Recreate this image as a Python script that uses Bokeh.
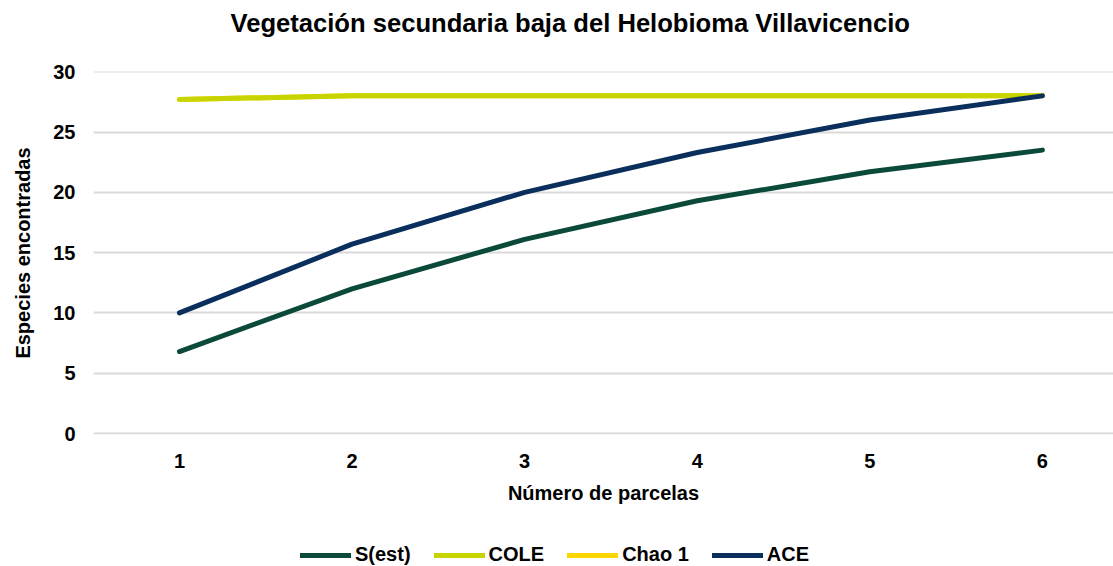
from bokeh.plotting import figure
from bokeh.layouts import column
from bokeh.models import Legend, LegendItem, FixedTicker, Range1d, Label
from bokeh.embed import file_html
from bokeh.resources import INLINE

parcelas = [1, 2, 3, 4, 5, 6]
s_est = [6.8, 12.0, 16.1, 19.3, 21.7, 23.5]
cole = [27.7, 28.0, 28.0, 28.0, 28.0, 28.0]
chao1 = [27.7, 28.0, 28.0, 28.0, 28.0, 28.0]
ace = [10.0, 15.7, 20.0, 23.3, 26.0, 28.0]
y_ticks = [0, 5, 10, 15, 20, 25, 30]
series_names = ["S(est)", "COLE", "Chao 1", "ACE"]
series_values = [s_est, cole, chao1, ace]
series_colors = ["#0B4A3A", "#C8D400", "#FFD700", "#0A2F5C"]
title_text = "Vegetación secundaria baja del Helobioma Villavicencio"

FONT = "Liberation Sans"
W = 1113

# title strip
pt = figure(width=W, height=59, output_backend="svg", toolbar_location=None,
            x_range=Range1d(0, 1), y_range=Range1d(0, 1),
            min_border_left=0, min_border_right=0, min_border_top=0, min_border_bottom=0)
pt.axis.visible = False
pt.grid.visible = False
pt.outline_line_color = None
pt.add_layout(Label(x=137, y=37, x_units="screen", y_units="screen", text=title_text,
                    text_font=FONT, text_font_size="25.6px", text_font_style="bold",
                    text_color="#000000", text_baseline="middle", text_align="left"))

# main chart
p = figure(width=W, height=459, output_backend="svg", toolbar_location=None,
           x_range=Range1d(0.502, 6.412), y_range=Range1d(-0.08, 30.02),
           min_border_left=93, min_border_right=0, min_border_top=12, min_border_bottom=84)
p.outline_line_color = None
p.background_fill_color = "white"

lw = dict(line_width=5, line_cap="round", line_join="round")
p.line(parcelas, s_est, line_color=series_colors[0], **lw)
p.line(parcelas, chao1, line_color=series_colors[2], **lw)
p.line(parcelas, cole, line_color=series_colors[1], **lw)
p.line(parcelas, ace, line_color=series_colors[3], **lw)

p.xaxis.ticker = FixedTicker(ticks=parcelas)
p.yaxis.ticker = FixedTicker(ticks=y_ticks)
for ax in (p.xaxis[0], p.yaxis[0]):
    ax.major_tick_line_color = None
    ax.minor_tick_line_color = None
    ax.major_label_text_font = FONT
    ax.major_label_text_font_size = "20px"
    ax.major_label_text_font_style = "bold"
    ax.major_label_text_color = "#000000"
    ax.axis_label_text_font = FONT
    ax.axis_label_text_font_size = "20px"
    ax.axis_label_text_font_style = "bold"
    ax.axis_label_text_color = "#000000"
p.xaxis.axis_line_color = None
p.yaxis.axis_line_color = None
p.xaxis.axis_label = "Número de parcelas"
p.yaxis.axis_label = "Especies encontradas"
p.xaxis.major_label_standoff = 13
p.yaxis.major_label_standoff = 12
p.xaxis.axis_label_standoff = 11
p.yaxis.axis_label_standoff = 16

p.xgrid.grid_line_color = None
p.ygrid.grid_line_color = "#D9D9D9"
p.ygrid.grid_line_width = 2

# legend strip below the chart (series drawn off-screen so only legend shows)
pl = figure(width=W, height=48, output_backend="svg", toolbar_location=None,
            x_range=Range1d(100, 101), y_range=Range1d(100, 101),
            min_border_left=0, min_border_right=0, min_border_top=0, min_border_bottom=0)
pl.axis.visible = False
pl.grid.visible = False
pl.outline_line_color = None
items = []
for name, vals, col in zip(series_names, series_values, series_colors):
    r = pl.line(parcelas, vals, line_color=col, **lw)
    items.append(LegendItem(label=name, renderers=[r]))
legend = Legend(items=items, orientation="horizontal", location=(207, 0),
    label_text_font=FONT, label_text_font_size="20px", label_text_font_style="bold",
    label_text_color="#000000", glyph_width=51, glyph_height=20, label_standoff=4,
    spacing=23, border_line_color=None, background_fill_alpha=0, margin=0, padding=0)
pl.add_layout(legend, "center")

layout = column(pt, p, pl, spacing=0)
open("out.html", "w").write(file_html(layout, INLINE))
